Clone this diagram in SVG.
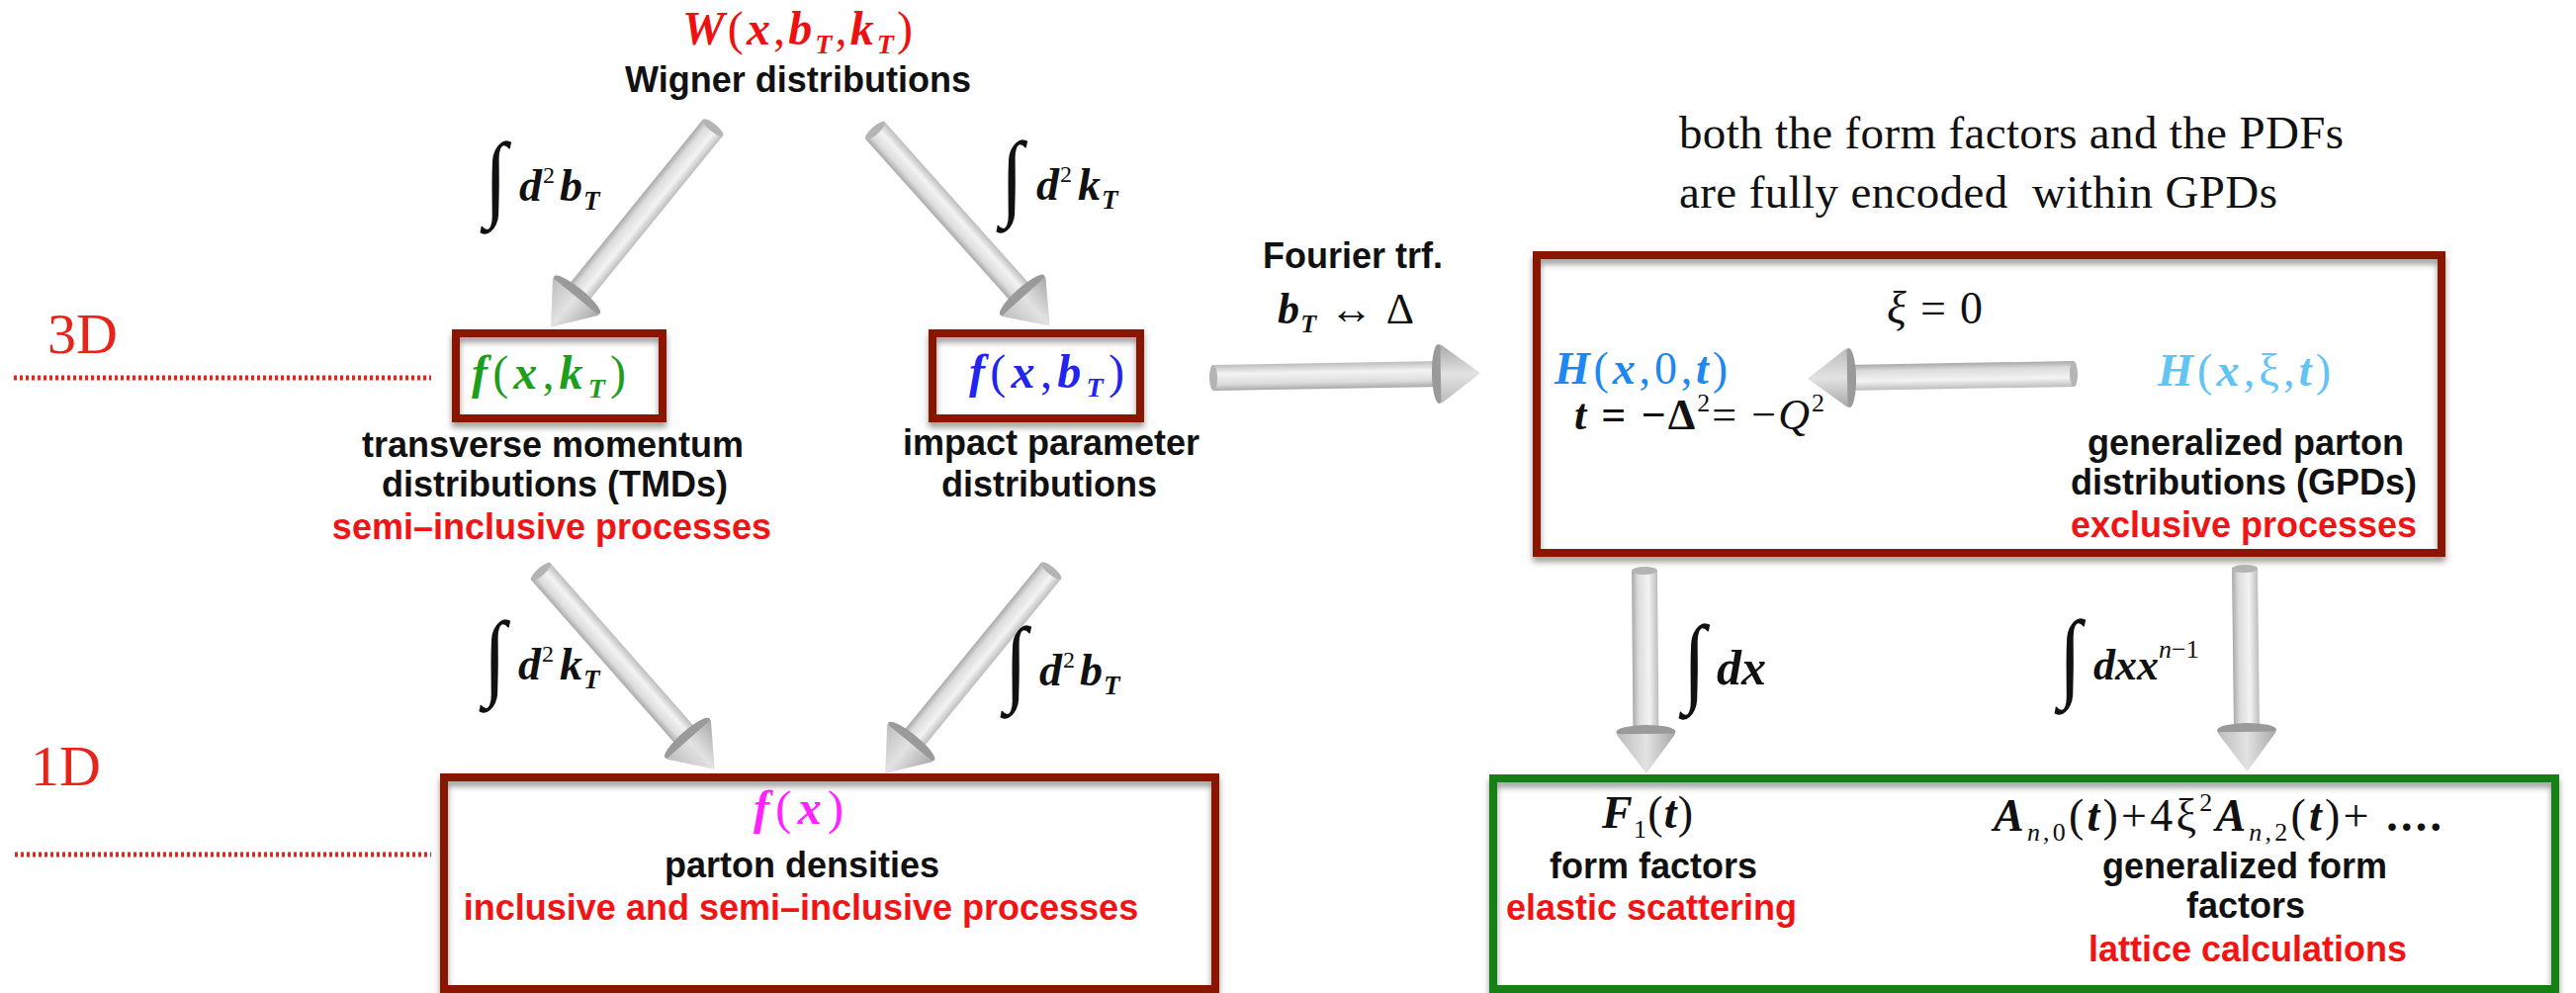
<svg xmlns="http://www.w3.org/2000/svg" width="2605" height="1004" viewBox="0 0 2605 1004">
<style>
 .sans{font-family:"Liberation Sans",Arial,sans-serif;font-weight:bold;font-size:36px;text-anchor:middle;fill:#111}
 .red{fill:#F01414}
 .serif{font-family:"Liberation Serif","Times New Roman",serif;fill:#111}
 .bi{font-weight:bold;font-style:italic}
 .it{font-style:italic}
 .box{fill:none;stroke:#8A1500;stroke-width:8;filter:url(#sh)}
 .gbox{fill:none;stroke:#157F15;stroke-width:8;filter:url(#sh)}
 .dots{stroke:#E8231A;stroke-width:5;stroke-dasharray:3 3;fill:none}
 .lvl{font-family:"Liberation Serif","Times New Roman",serif;font-size:58px;fill:#E8231A}
 .int{font-family:"Liberation Serif","Times New Roman",serif;font-size:62px;font-weight:bold;fill:#111}
 .shaft{fill:url(#gShaft)}
 .cap{fill:#b4b4b4}
 .disk{fill:#9a9a9a}
 .cone{fill:url(#gCone)}
</style>
<defs>
 <filter id="sh" x="-5%" y="-10%" width="110%" height="130%">
  <feDropShadow dx="0" dy="5" stdDeviation="3" flood-color="#000" flood-opacity="0.4"/>
 </filter>
 <linearGradient id="gShaft" x1="0" y1="0" x2="0" y2="1">
  <stop offset="0" stop-color="#bdbdbd"/><stop offset="0.35" stop-color="#f3f3f3"/><stop offset="0.75" stop-color="#dcdcdc"/><stop offset="1" stop-color="#a9a9a9"/>
 </linearGradient>
 <linearGradient id="gCone" x1="0" y1="0" x2="0" y2="1">
  <stop offset="0" stop-color="#a8a8a8"/><stop offset="0.5" stop-color="#e2e2e2"/><stop offset="1" stop-color="#bcbcbc"/>
 </linearGradient>
</defs>
<rect width="2605" height="1004" fill="#fff"/>

<g id="level3d">
 <text class="lvl" x="48" y="357">3D</text>
 <line class="dots" x1="14" y1="382" x2="436" y2="382"/>
</g>
<g id="level1d">
 <text class="lvl" x="31" y="794">1D</text>
 <line class="dots" x1="15" y1="864" x2="436" y2="864"/>
</g>

<g id="note">
 <text class="serif" x="1698" y="150" font-size="47" textLength="672" lengthAdjust="spacing">both the form factors and the PDFs</text>
 <text class="serif" x="1698" y="210" font-size="47" textLength="605" lengthAdjust="spacing" xml:space="preserve">are fully encoded  within GPDs</text>
</g>

<g id="wigner">
 <text class="serif" x="690" y="45" font-size="48" style="fill:#EE1111" textLength="233" lengthAdjust="spacing"><tspan class="bi">W</tspan>(<tspan class="bi">x</tspan>,<tspan class="bi">b</tspan><tspan class="bi" font-size="28" dy="9">T</tspan><tspan dy="-9">,</tspan><tspan class="bi">k</tspan><tspan class="bi" font-size="28" dy="9">T</tspan><tspan dy="-9">)</tspan></text>
 <text class="sans" x="807" y="93" textLength="350" lengthAdjust="spacingAndGlyphs">Wigner distributions</text>
</g>

<g id="tmd">
 <rect class="box" x="461" y="337" width="209" height="86"/>
 <text class="serif" x="477" y="393" font-size="48" style="fill:#1E9E1E" textLength="156" lengthAdjust="spacing"><tspan class="bi">f</tspan>(<tspan class="bi">x</tspan>,<tspan class="bi">k</tspan><tspan class="bi" font-size="28" dy="9">T</tspan><tspan dy="-9">)</tspan></text>
 <text class="sans" x="559" y="462">transverse momentum</text>
 <text class="sans" x="561" y="502">distributions (TMDs)</text>
 <text class="sans red" x="558" y="545">semi–inclusive processes</text>
</g>

<g id="ipd">
 <rect class="box" x="943" y="337" width="210" height="86"/>
 <text class="serif" x="980" y="392" font-size="48" style="fill:#2424F0" textLength="157" lengthAdjust="spacing"><tspan class="bi">f</tspan>(<tspan class="bi">x</tspan>,<tspan class="bi">b</tspan><tspan class="bi" font-size="28" dy="9">T</tspan><tspan dy="-9">)</tspan></text>
 <text class="sans" x="1063" y="460">impact parameter</text>
 <text class="sans" x="1061" y="502">distributions</text>
</g>

<g id="gpd">
 <rect class="box" x="1554" y="258" width="915" height="301"/>
 <text class="serif" x="1572" y="388" font-size="46" style="fill:#1E88F0" textLength="175" lengthAdjust="spacing"><tspan class="bi">H</tspan>(<tspan class="bi">x</tspan>,0,<tspan class="bi">t</tspan>)</text>
 <text class="serif" x="1592" y="434" font-size="44" textLength="253" lengthAdjust="spacing"><tspan class="bi">t</tspan><tspan font-weight="bold"> = −Δ</tspan><tspan font-size="26" dy="-18">2</tspan><tspan dy="18">= −</tspan><tspan class="it">Q</tspan><tspan font-size="26" dy="-18">2</tspan></text>
 <text class="serif" x="2182" y="390" font-size="46" style="fill:#62C3F5" textLength="175" lengthAdjust="spacing"><tspan class="bi">H</tspan>(<tspan class="bi">x</tspan>,ξ,<tspan class="bi">t</tspan>)</text>
 <text class="sans" x="2271" y="460">generalized parton</text>
 <text class="sans" x="2269" y="500">distributions (GPDs)</text>
 <text class="sans red" x="2269" y="543">exclusive processes</text>
</g>

<g id="pdf">
 <rect class="box" x="449" y="786" width="780" height="214"/>
 <text class="serif" x="762" y="833" font-size="48" style="fill:#FF22FF" textLength="91" lengthAdjust="spacing"><tspan class="bi">f</tspan>(<tspan class="bi">x</tspan>)</text>
 <text class="sans" x="811" y="887">parton densities</text>
 <text class="sans red" x="810" y="930">inclusive and semi–inclusive processes</text>
</g>

<g id="ff">
 <rect class="gbox" x="1510" y="787" width="1074" height="213"/>
 <text class="serif" x="1620" y="837" font-size="46" textLength="92" lengthAdjust="spacing"><tspan class="bi">F</tspan><tspan font-size="26" dy="10">1</tspan><tspan dy="-10">(</tspan><tspan class="bi">t</tspan>)</text>
 <text class="sans" x="1672" y="888">form factors</text>
 <text class="sans red" x="1670" y="930">elastic scattering</text>
 <text class="serif" x="2016" y="840" font-size="46" textLength="453" lengthAdjust="spacing"><tspan class="bi">A</tspan><tspan class="it" font-size="26" dy="10">n</tspan><tspan font-size="26">,0</tspan><tspan dy="-10">(</tspan><tspan class="bi">t</tspan>)+4ξ<tspan font-size="26" dy="-20">2</tspan><tspan class="bi" dy="20">A</tspan><tspan class="it" font-size="26" dy="10">n</tspan><tspan font-size="26">,2</tspan><tspan dy="-10">(</tspan><tspan class="bi">t</tspan>)+ <tspan font-weight="bold">....</tspan></text>
 <text class="sans" x="2270" y="888">generalized form</text>
 <text class="sans" x="2271" y="928">factors</text>
 <text class="sans red" x="2273" y="972">lattice calculations</text>
</g>

<g id="connectors">
 <!-- W -> TMD -->
 <g transform="translate(721,129) rotate(129.1)">
  <rect class="shaft" x="0" y="-13" width="222" height="26"/>
  <ellipse class="cap" cx="0" cy="0" rx="4" ry="13"/>
  <ellipse class="disk" cx="218" cy="0" rx="7" ry="30"/>
  <path class="cone" d="M220,-30 L260,0 L220,30 Z"/>
 </g>
 <!-- W -> IPD -->
 <g transform="translate(885,132) rotate(48.2)">
  <rect class="shaft" x="0" y="-13" width="227" height="26"/>
  <ellipse class="cap" cx="0" cy="0" rx="4" ry="13"/>
  <ellipse class="disk" cx="223" cy="0" rx="7" ry="30"/>
  <path class="cone" d="M225,-30 L265,0 L225,30 Z"/>
 </g>
 <!-- TMD -> PDF -->
 <g transform="translate(547,578) rotate(48.65)">
  <rect class="shaft" x="0" y="-13" width="228" height="26"/>
  <ellipse class="cap" cx="0" cy="0" rx="4" ry="13"/>
  <ellipse class="disk" cx="224" cy="0" rx="7" ry="30"/>
  <path class="cone" d="M226,-30 L266,0 L226,30 Z"/>
 </g>
 <!-- IPD -> PDF -->
 <g transform="translate(1063,577) rotate(129.3)">
  <rect class="shaft" x="0" y="-13" width="227" height="26"/>
  <ellipse class="cap" cx="0" cy="0" rx="4" ry="13"/>
  <ellipse class="disk" cx="223" cy="0" rx="7" ry="30"/>
  <path class="cone" d="M225,-30 L265,0 L225,30 Z"/>
 </g>
 <!-- IPD -> GPD (Fourier) -->
 <g transform="translate(1227,382) rotate(-1)">
  <rect class="shaft" x="0" y="-13" width="232" height="26"/>
  <ellipse class="cap" cx="0" cy="0" rx="4" ry="13"/>
  <ellipse class="disk" cx="228" cy="0" rx="7" ry="30"/>
  <path class="cone" d="M230,-30 L270,0 L230,30 Z"/>
 </g>
 <!-- H(x,xi,t) -> H(x,0,t) -->
 <g transform="translate(2097,378) rotate(179)">
  <rect class="shaft" x="0" y="-13" width="231" height="26"/>
  <ellipse class="cap" cx="0" cy="0" rx="4" ry="13"/>
  <ellipse class="disk" cx="227" cy="0" rx="7" ry="30"/>
  <path class="cone" d="M229,-30 L269,0 L229,30 Z"/>
 </g>
 <!-- GPD -> F1 -->
 <g transform="translate(1663,577) rotate(89.5)">
  <rect class="shaft" x="0" y="-13" width="167" height="26"/>
  <ellipse class="cap" cx="0" cy="0" rx="4" ry="13"/>
  <ellipse class="disk" cx="163" cy="0" rx="7" ry="30"/>
  <path class="cone" d="M165,-30 L205,0 L165,30 Z"/>
 </g>
 <!-- GPD -> A_n -->
 <g transform="translate(2270,575) rotate(89.3)">
  <rect class="shaft" x="0" y="-13" width="167" height="26"/>
  <ellipse class="cap" cx="0" cy="0" rx="4" ry="13"/>
  <ellipse class="disk" cx="163" cy="0" rx="7" ry="30"/>
  <path class="cone" d="M165,-30 L205,0 L165,30 Z"/>
 </g>

 <!-- arrow labels -->
 <text class="int" transform="translate(490,211) scale(1.35,1.55)">∫</text>
 <text class="serif" y="203" font-size="46"><tspan class="bi" x="525">d</tspan><tspan x="549" dy="-18" font-size="24">2</tspan><tspan class="bi" x="566" dy="18">b</tspan><tspan class="bi" x="590" dy="9" font-size="27">T</tspan></text>

 <text class="int" transform="translate(1012,210) scale(1.35,1.55)">∫</text>
 <text class="serif" y="202" font-size="46"><tspan class="bi" x="1048">d</tspan><tspan x="1072" dy="-18" font-size="24">2</tspan><tspan class="bi" x="1090" dy="18">k</tspan><tspan class="bi" x="1114" dy="9" font-size="27">T</tspan></text>

 <text class="int" transform="translate(489,695) scale(1.35,1.55)">∫</text>
 <text class="serif" y="687" font-size="46"><tspan class="bi" x="524">d</tspan><tspan x="548" dy="-18" font-size="24">2</tspan><tspan class="bi" x="566" dy="18">k</tspan><tspan class="bi" x="590" dy="9" font-size="27">T</tspan></text>

 <text class="int" transform="translate(1016,701) scale(1.35,1.55)">∫</text>
 <text class="serif" y="693" font-size="46"><tspan class="bi" x="1051">d</tspan><tspan x="1075" dy="-18" font-size="24">2</tspan><tspan class="bi" x="1092" dy="18">b</tspan><tspan class="bi" x="1116" dy="9" font-size="27">T</tspan></text>

 <text class="int" transform="translate(1702,701) scale(1.35,1.6)">∫</text>
 <text class="serif" x="1736" y="692" font-size="50"><tspan class="bi">dx</tspan></text>

 <text class="int" transform="translate(2082,696) scale(1.35,1.6)">∫</text>
 <text class="serif" x="2117" y="687" font-size="44"><tspan class="bi">dxx</tspan><tspan class="it" font-size="26" dy="-22">n</tspan><tspan font-size="26">−1</tspan></text>

 <text class="sans" x="1368" y="271">Fourier trf.</text>
 <text class="serif" x="1292" y="327" font-size="44" textLength="138" lengthAdjust="spacing"><tspan class="bi">b</tspan><tspan class="bi" font-size="26" dy="9">T</tspan><tspan dy="-9"> ↔ Δ</tspan></text>
 <text class="serif" x="1908" y="327" font-size="46" textLength="97" lengthAdjust="spacing"><tspan class="it">ξ</tspan> = 0</text>
</g>
</svg>
